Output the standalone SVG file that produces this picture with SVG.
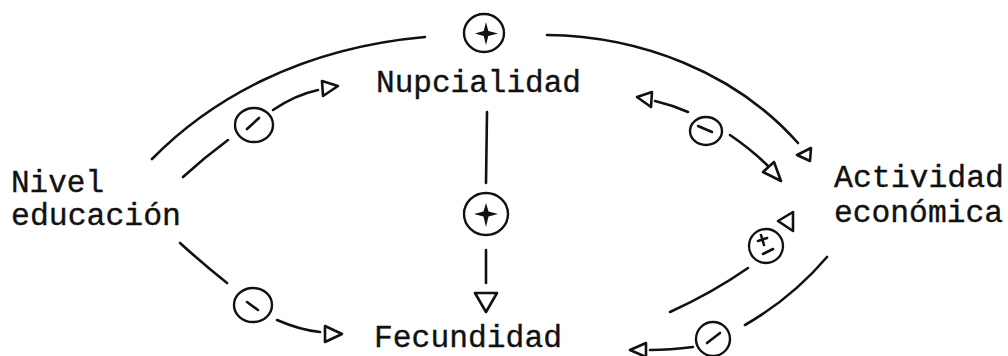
<svg xmlns="http://www.w3.org/2000/svg" width="1008" height="356" viewBox="0 0 1008 356">
<style>
.lbl{font-family:"Liberation Mono","Courier New",monospace;font-size:31px;fill:#111;stroke:#111;stroke-width:0.35}
.ln{fill:none;stroke:#111;stroke-width:2.6;stroke-linecap:round}
.sg{fill:none;stroke:#111;stroke-width:2.4}
.ah{fill:#fff;stroke:#111;stroke-width:2.6;stroke-linejoin:round}
.star{fill:#111}
</style>
<rect width="1008" height="356" fill="#fff"/>
<g id="node-nupcialidad"><text class="lbl" x="376" y="92" textLength="205" lengthAdjust="spacingAndGlyphs">Nupcialidad</text></g>
<g id="node-nivel-educacion"><text class="lbl" x="11" y="192">Nivel</text><text class="lbl" x="11" y="225" textLength="170" lengthAdjust="spacingAndGlyphs">educación</text></g>
<g id="node-actividad-economica"><text class="lbl" x="834" y="187" textLength="170" lengthAdjust="spacingAndGlyphs">Actividad</text><text class="lbl" x="834" y="222" textLength="169" lengthAdjust="spacingAndGlyphs">económica</text></g>
<g id="node-fecundidad"><text class="lbl" x="374" y="347" textLength="188" lengthAdjust="spacingAndGlyphs">Fecundidad</text></g>
<g id="connectors">
  <!-- outer top arc: Nivel educación -> Actividad económica (+) -->
  <path class="ln" d="M152,159 C210,100 300,48 425,37"/>
  <path class="ln" d="M547,35 C640,36 735,72 798,143"/>
  <polygon class="ah" points="797,155 811,148 810,161"/>
  <g id="sign-top"><ellipse class="sg" cx="484" cy="33" rx="20" ry="19"/><path class="star" d="M486,22 L488.3,31 L498,33.5 L488.3,36 L486,45 L483.7,36 L475,33.5 L483.7,31 Z"/></g>
  <!-- inner top-left: Nivel educación -> Nupcialidad (-) -->
  <path class="ln" d="M183,177 Q205,157 228,140"/>
  <g id="sign-tl"><ellipse class="sg" cx="254" cy="125" rx="19" ry="17"/><line class="ln" x1="247" y1="129" x2="259" y2="118"/></g>
  <path class="ln" d="M273,110 Q295,95 318,90"/>
  <polygon class="ah" points="338,86 322,81 323,96"/>
  <!-- inner top-right: Nupcialidad <-> Actividad económica (-) -->
  <polygon class="ah" points="637,97 652,92 651,107"/>
  <path class="ln" d="M655,101 Q672,105 688,112"/>
  <g id="sign-tr"><ellipse class="sg" cx="706" cy="131" rx="16" ry="14"/><line class="ln" x1="698" y1="126" x2="712" y2="132"/></g>
  <path class="ln" d="M730,135 Q752,150 768,166"/>
  <polygon class="ah" points="781,181 763,172 774,162"/>
  <!-- vertical: Nupcialidad -> Fecundidad (+) -->
  <path class="ln" d="M487,112 L486,183"/>
  <g id="sign-mid"><ellipse class="sg" cx="486" cy="214" rx="22" ry="21"/><path class="star" d="M486,203 L488.5,211.5 L498,214 L488.5,216.5 L486,227 L483.5,216.5 L474,214 L483.5,211.5 Z"/></g>
  <path class="ln" d="M486,250 L486,283"/>
  <polygon class="ah" points="475,293 497,293 486,312"/>
  <!-- lower-left: Nivel educación -> Fecundidad (-) -->
  <path class="ln" d="M180,243 Q202,263 227,283"/>
  <g id="sign-bl"><ellipse class="sg" cx="253" cy="305" rx="19" ry="17"/><line class="ln" x1="247" y1="302" x2="258" y2="310"/></g>
  <path class="ln" d="M277,320 Q300,330 320,332"/>
  <polygon class="ah" points="342,334 325,326 325,342"/>
  <!-- lower-right outer: Actividad económica -> Fecundidad (-) -->
  <path class="ln" d="M827,257 Q792,298 745,325"/>
  <g id="sign-br"><ellipse class="sg" cx="713" cy="339" rx="17" ry="17"/><line class="ln" x1="707" y1="343" x2="720" y2="333"/></g>
  <path class="ln" d="M693,347 Q670,350 650,350"/>
  <polygon class="ah" points="630,350 646,343 646,357"/>
  <!-- lower-right inner: Fecundidad -> Actividad económica (±) -->
  <path class="ln" d="M670,312 Q712,293 748,268"/>
  <g id="sign-pm"><ellipse class="sg" cx="766" cy="246" rx="17" ry="17"/><line class="ln" x1="758" y1="241" x2="767" y2="238"/><line class="ln" x1="761" y1="235" x2="764" y2="245"/><line class="ln" x1="763" y1="254" x2="773" y2="249"/></g>
  <polygon class="ah" points="778,221 793,212 793,231"/>
</g>
</svg>
